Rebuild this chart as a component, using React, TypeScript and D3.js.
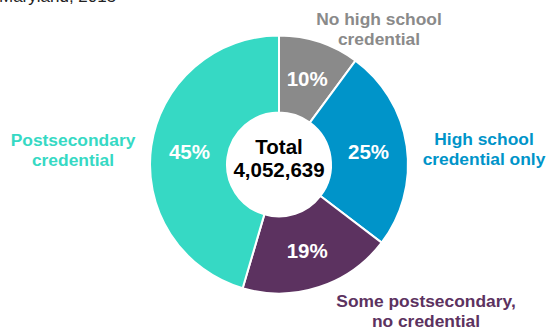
import React from "react";
import * as d3 from "d3";

const categories = [
  "No high school credential",
  "High school credential only",
  "Some postsecondary, no credential",
  "Postsecondary credential",
];
const shares = [10, 25, 19, 45];
const pctLabels = ["10%", "25%", "19%", "45%"];
const colors = ["#8a8a8a", "#0094c9", "#5c3260", "#36d9c4"];
const labelLines = [
  ["No high school", "credential"],
  ["High school", "credential only"],
  ["Some postsecondary,", "no credential"],
  ["Postsecondary", "credential"],
];
const labelPos = [
  [379, 25],
  [484, 145],
  [426, 307],
  [73, 146],
];
const totalLabel = "Total";
const totalValue = "4,052,639";
const subtitle = "Maryland, 2015";

const W = 546;
const H = 330;
const cx = 279;
const cy = 164.5;
const outerR = 129;
const innerR = 52;

export default function App() {
  const pie = d3.pie<number>().sort(null).value((d) => d);
  const arcs = pie(shares);
  const arc = d3.arc<d3.PieArcDatum<number>>().innerRadius(innerR).outerRadius(outerR);
  const font = "'Liberation Sans', Arial, sans-serif";
  return (
    <svg
      width={W}
      height={H}
      style={{ position: "absolute", left: 0, top: 0, background: "#fff" }}
      fontFamily={font}
    >
      <text x={-1} y={1.5} fontSize={17} fill="#222">
        {subtitle}
      </text>
      <g transform={`translate(${cx},${cy})`}>
        {arcs.map((a, i) => (
          <path key={categories[i]} d={arc(a) || ""} fill={colors[i]} stroke="#fff" strokeWidth={2} />
        ))}
        {arcs.map((a, i) => {
          const [x, y] = arc.centroid(a);
          return (
            <text
              key={"p" + i}
              x={x}
              y={y + 7.5}
              textAnchor="middle"
              fill="#fff"
              fontWeight="bold"
              fontSize={20.5}
            >
              {pctLabels[i]}
            </text>
          );
        })}
        <text x={0} y={-10.5} textAnchor="middle" fontWeight="bold" fontSize={20.5} fill="#000">
          {totalLabel}
        </text>
        <text x={0} y={12.5} textAnchor="middle" fontWeight="bold" fontSize={20.5} fill="#000">
          {totalValue}
        </text>
      </g>
      {labelLines.map((lines, i) => (
        <text
          key={"l" + i}
          x={labelPos[i][0]}
          y={labelPos[i][1]}
          textAnchor="middle"
          fontWeight="bold"
          fontSize={17.4}
          fill={colors[i]}
        >
          {lines.map((t, j) => (
            <tspan key={j} x={labelPos[i][0]} dy={j === 0 ? 0 : 20}>
              {t}
            </tspan>
          ))}
        </text>
      ))}
    </svg>
  );
}
